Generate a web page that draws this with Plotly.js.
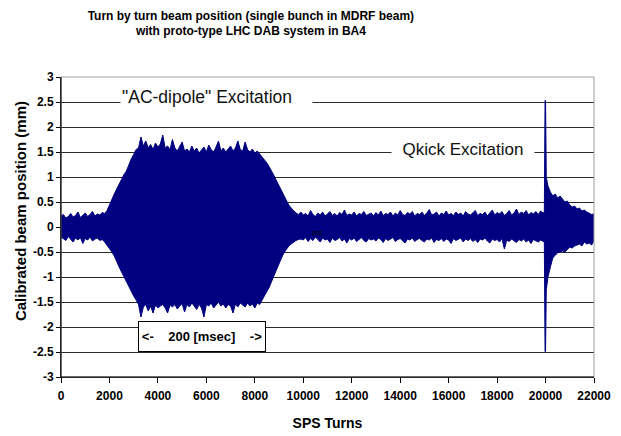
<!DOCTYPE html>
<html><head><meta charset="utf-8">
<script src="https://cdn.plot.ly/plotly-3.0.1.min.js"></script>
<style>html,body{margin:0;padding:0;background:#fff}#chart{width:621px;height:436px}</style>
</head><body><div id="chart"></div>
<script>
const turns = [
0,100,200,300,400,500,600,700,800,900,
1000,1100,1200,1300,1400,1500,1600,1700,1800,1900,
2000,2100,2200,2300,2400,2500,2600,2700,2800,2900,
3000,3100,3200,3300,3400,3500,3600,3700,3800,3900,
4000,4100,4200,4300,4400,4500,4600,4700,4800,4900,
5000,5100,5200,5300,5400,5500,5600,5700,5800,5900,
6000,6100,6200,6300,6400,6500,6600,6700,6800,6900,
7000,7100,7200,7300,7400,7500,7600,7700,7800,7900,
8000,8100,8200,8300,8400,8500,8600,8700,8800,8900,
9000,9100,9200,9300,9400,9500,9600,9700,9800,9900,
10000,10100,10200,10300,10400,10500,10600,10700,10800,10900,
11000,11100,11200,11300,11400,11500,11600,11700,11800,11900,
12000,12100,12200,12300,12400,12500,12600,12700,12800,12900,
13000,13100,13200,13300,13400,13500,13600,13700,13800,13900,
14000,14100,14200,14300,14400,14500,14600,14700,14800,14900,
15000,15100,15200,15300,15400,15500,15600,15700,15800,15900,
16000,16100,16200,16300,16400,16500,16600,16700,16800,16900,
17000,17100,17200,17300,17400,17500,17600,17700,17800,17900,
18000,18100,18200,18300,18400,18500,18600,18700,18800,18900,
19000,19100,19200,19300,19400,19500,19600,19700,19800,19900,
19950,19980,20000,20030,
20100,20200,20300,20400,20500,20600,20700,20800,20900,21000,
21100,21200,21300,21400,21500,21600,21700,21800,21900,22000
];
const upperEnvelope = [
0.22,0.25,0.18,0.21,0.27,0.20,0.23,0.30,0.19,0.24,
0.28,0.21,0.25,0.31,0.22,0.26,0.24,0.29,0.27,0.33,
0.45,0.55,0.66,0.76,0.86,0.96,1.05,1.12,1.25,1.36,
1.45,1.55,1.58,1.80,1.62,1.72,1.58,1.65,1.55,1.68,
1.60,1.66,1.84,1.58,1.62,1.55,1.75,1.58,1.52,1.60,
1.70,1.52,1.56,1.50,1.62,1.52,1.58,1.48,1.55,1.60,
1.50,1.64,1.55,1.50,1.60,1.72,1.52,1.58,1.50,1.56,
1.62,1.52,1.58,1.72,1.55,1.52,1.70,1.55,1.50,1.56,
1.48,1.52,1.46,1.42,1.36,1.28,1.20,1.12,1.02,0.92,
0.82,0.72,0.62,0.52,0.44,0.38,0.32,0.28,0.25,0.30,
0.24,0.27,0.22,0.33,0.25,0.21,0.28,0.24,0.30,0.22,
0.26,0.31,0.23,0.27,0.22,0.29,0.25,0.34,0.23,0.26,
0.24,0.30,0.22,0.27,0.25,0.31,0.23,0.26,0.28,0.22,
0.29,0.24,0.32,0.23,0.27,0.25,0.30,0.22,0.28,0.24,
0.33,0.25,0.23,0.29,0.26,0.31,0.22,0.27,0.25,0.30,
0.23,0.28,0.35,0.24,0.26,0.30,0.22,0.28,0.25,0.32,
0.24,0.27,0.23,0.30,0.25,0.28,0.22,0.31,0.26,0.24,
0.29,0.33,0.23,0.27,0.25,0.30,0.22,0.28,0.34,0.24,
0.29,0.26,0.31,0.23,0.27,0.33,0.24,0.28,0.36,0.25,
0.30,0.27,0.33,0.24,0.29,0.26,0.31,0.25,0.32,0.28,
0.30,2.53,2.53,1.00,
0.82,0.70,0.62,0.66,0.58,0.62,0.55,0.50,0.52,0.44,
0.40,0.42,0.36,0.38,0.32,0.34,0.30,0.28,0.25,0.26
];
const lowerEnvelope = [
-0.20,-0.24,-0.27,-0.19,-0.25,-0.30,-0.22,-0.26,-0.21,-0.33,
-0.23,-0.26,-0.20,-0.28,-0.24,-0.22,-0.27,-0.25,-0.30,-0.36,
-0.42,-0.50,-0.58,-0.70,-0.80,-0.90,-1.00,-1.08,-1.17,-1.28,
-1.38,-1.46,-1.55,-1.80,-1.60,-1.55,-1.68,-1.58,-1.72,-1.56,
-1.62,-1.58,-1.55,-1.62,-1.72,-1.56,-1.60,-1.55,-1.64,-1.58,
-1.53,-1.70,-1.55,-1.60,-1.52,-1.58,-1.65,-1.55,-1.62,-1.80,
-1.55,-1.58,-1.52,-1.62,-1.56,-1.50,-1.58,-1.54,-1.62,-1.55,
-1.58,-1.72,-1.54,-1.60,-1.52,-1.56,-1.60,-1.52,-1.58,-1.54,
-1.62,-1.52,-1.55,-1.46,-1.38,-1.30,-1.20,-1.08,-0.96,-0.86,
-0.72,-0.62,-0.52,-0.44,-0.38,-0.34,-0.30,-0.27,-0.25,-0.24,
-0.26,-0.21,-0.29,-0.23,-0.27,-0.20,-0.25,-0.30,-0.22,-0.26,
-0.24,-0.31,-0.22,-0.27,-0.25,-0.21,-0.28,-0.24,-0.32,-0.23,
-0.26,-0.22,-0.29,-0.25,-0.21,-0.27,-0.30,-0.23,-0.26,-0.24,
-0.28,-0.22,-0.25,-0.31,-0.23,-0.27,-0.24,-0.21,-0.29,-0.25,
-0.23,-0.28,-0.32,-0.24,-0.26,-0.22,-0.29,-0.25,-0.23,-0.27,
-0.30,-0.24,-0.26,-0.22,-0.31,-0.25,-0.27,-0.23,-0.29,-0.24,
-0.26,-0.33,-0.23,-0.27,-0.25,-0.22,-0.30,-0.24,-0.27,-0.23,
-0.29,-0.25,-0.31,-0.24,-0.26,-0.22,-0.28,-0.32,-0.24,-0.27,
-0.25,-0.30,-0.23,-0.44,-0.26,-0.29,-0.24,-0.27,-0.31,-0.25,
-0.28,-0.24,-0.30,-0.26,-0.33,-0.25,-0.28,-0.30,-0.26,-0.29,
-0.30,-2.49,-2.49,-1.26,
-1.00,-0.80,-0.62,-0.56,-0.52,-0.50,-0.48,-0.50,-0.44,-0.40,
-0.42,-0.38,-0.36,-0.34,-0.38,-0.30,-0.34,-0.32,-0.36,-0.28
];
const xTickVals = [0,2000,4000,6000,8000,10000,12000,14000,16000,18000,20000,22000];
const xTickLabels = ["0","2000","4000","6000","8000","10000","12000","14000","16000","18000","20000","22000"];
const yTickVals = [3,2.5,2,1.5,1,0.5,0,-0.5,-1,-1.5,-2,-2.5,-3];
const yTickLabels = ["3","2.5","2","1.5","1","0.5","0","-0.5","-1","-1.5","-2","-2.5","-3"];

const FONT = "Liberation Sans, Arial, Helvetica, sans-serif";
const NAVY = "#000080";

const traces = [
  {x: turns, y: lowerEnvelope, type: "scatter", mode: "lines",
   line: {color: NAVY, width: 1}, hoverinfo: "skip"},
  {x: turns, y: upperEnvelope, type: "scatter", mode: "lines",
   line: {color: NAVY, width: 1}, fill: "tonexty", fillcolor: NAVY, hoverinfo: "skip"}
];

const layout = {
  width: 621, height: 436,
  margin: {l: 61, r: 27, t: 77, b: 59},
  paper_bgcolor: "#fff", plot_bgcolor: "#fff",
  showlegend: false,
  font: {family: FONT, color: "#000"},
  title: {
    text: "<b>Turn by turn beam position (single bunch in MDRF beam)<br>with proto-type LHC DAB system in BA4</b>",
    font: {size: 12, family: FONT, color: "#000"},
    x: 0.404, xanchor: "center", xref: "container",
    y: 0.955, yanchor: "middle", yref: "container"
  },
  xaxis: {
    range: [0, 22000], tickmode: "array", tickvals: xTickVals, ticktext: xTickLabels,
    ticks: "outside", ticklen: 5, tickcolor: "#000", tickwidth: 1, ticklabelstandoff: 3,
    showline: true, linecolor: "#000", linewidth: 1,
    showgrid: false, zeroline: false,
    tickfont: {size: 12, family: FONT, weight: "bold", color: "#000"},
    title: {text: "SPS Turns", font: {size: 14, family: FONT, weight: "bold", color: "#000"}, standoff: 15},
    fixedrange: true
  },
  yaxis: {
    range: [-3, 3], tickmode: "array", tickvals: yTickVals, ticktext: yTickLabels,
    ticks: "outside", ticklen: 4, tickcolor: "#000", tickwidth: 1,
    showline: true, linecolor: "#000", linewidth: 1,
    showgrid: true, gridcolor: "#2a2a2a", gridwidth: 1, zeroline: false,
    tickfont: {size: 12, family: FONT, weight: "bold", color: "#000"},
    fixedrange: true
  },
  shapes: [
    {type: "rect", xref: "paper", yref: "paper", x0: 0, x1: 1, y0: 0, y1: 1,
     line: {color: "#a0a0a0", width: 1}, layer: "above"},
    {type: "line", xref: "paper", yref: "paper", x0: 0, x1: 0, y0: 0, y1: 1,
     line: {color: "#000", width: 1}, layer: "above"},
    {type: "line", xref: "paper", yref: "paper", x0: 0, x1: 1, y0: 0, y1: 0,
     line: {color: "#000", width: 1}, layer: "above"}
  ],
  annotations: [
    {text: "<b>Calibrated beam position (mm)</b>", xref: "paper", yref: "paper",
     x: -0.077, y: 0.553, xanchor: "center", yanchor: "middle", textangle: -90,
     showarrow: false, font: {size: 15, family: FONT, color: "#000"}},
    {text: "\"AC-dipole\" Excitation", x: 6418, y: 2.6, xref: "x", yref: "y",
     showarrow: false, bgcolor: "#fff", width: 189, height: 24, align: "left",
     font: {size: 17.5, family: FONT, color: "#111"}},
    {text: "Qkick Excitation", x: 16593, y: 1.56, xref: "x", yref: "y",
     showarrow: false, bgcolor: "#fff", width: 140, height: 22, align: "center",
     font: {size: 17, family: FONT, color: "#111"}},
    {text: "<b>&lt;-&nbsp;&nbsp;&nbsp;&nbsp;200 [msec]&nbsp;&nbsp;&nbsp;&nbsp;-&gt;</b>", x: 5820, y: -2.19, xref: "x", yref: "y",
     showarrow: false, bgcolor: "#fff", bordercolor: "#000", borderwidth: 1, borderpad: 0,
     width: 126, height: 29, align: "center",
     font: {size: 13, family: FONT, color: "#000"}},
    {text: "sss", x: 10600, y: -0.1, xref: "x", yref: "y", showarrow: false,
     font: {size: 7, family: FONT, color: "#000"}}
  ]
};

Plotly.newPlot("chart", traces, layout, {displayModeBar: false, staticPlot: true});
</script>
</body></html>
